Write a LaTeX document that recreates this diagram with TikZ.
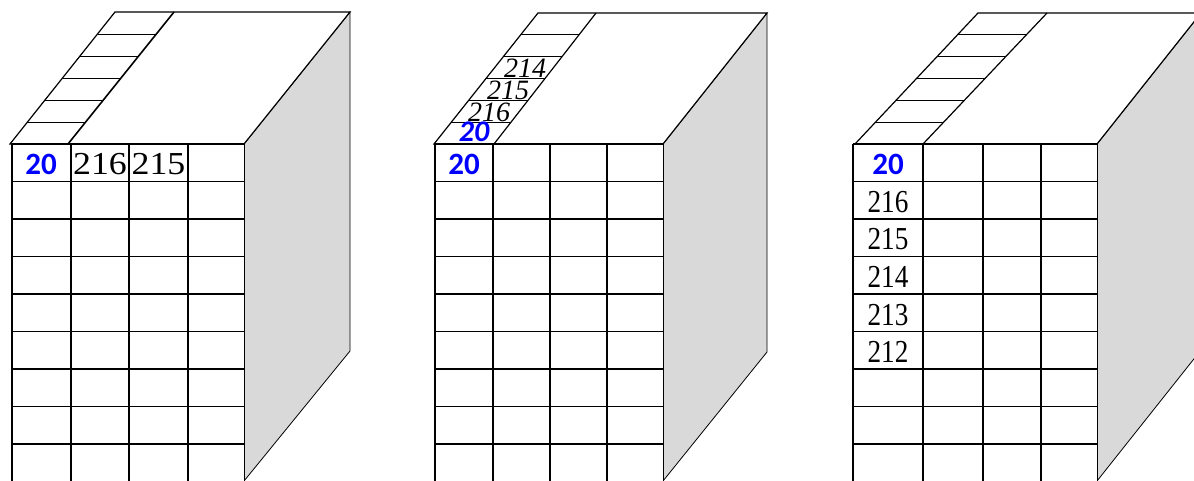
\documentclass[tikz,border=0pt]{standalone}
\usepackage{graphicx}
\usepackage{fontspec}
\setmainfont{Liberation Serif}
\newfontfamily\keyfont{Carlito}
\usetikzlibrary{calc}
\usepackage{xcolor}
\definecolor{sidegray}{HTML}{D9D9D9}
\definecolor{keyblue}{RGB}{0,0,255}

\begin{document}
\begin{tikzpicture}[x=1pt, y=-1pt,
    grid/.style={line width=1.6pt, draw=black},
    thin/.style={line width=0.8pt, draw=black},
    side/.style={line width=0.8pt, draw=black, fill=sidegray},
    face/.style={line width=1.2pt, draw=black, fill=white},
    key/.style={font=\keyfont\bfseries\fontsize{31}{31}\selectfont, text=keyblue,
                anchor=base, inner sep=0pt, text height=0.64em, text depth=0pt},
    num/.style={font=\fontsize{32}{32}\selectfont, anchor=base, inner sep=0pt,
                text height=0.68em, text depth=0pt},
    slnum/.style={font=\itshape\fontsize{28}{28}\selectfont, anchor=base, inner sep=0pt,
                  text height=0.66em, text depth=0pt}
]

\useasboundingbox (0,0) rectangle (1194,481);
\clip (0,0) rectangle (1194,481);

% Box 1: key in the first cell, entries along the first row
\draw[side] (244,144) -- (350,12) -- (350,351) -- (244,481) -- cycle;
\draw[face] (10,144) -- (244,144) -- (350,12) -- (115,12) -- cycle;
\coordinate (s1fl) at (10,144);
\coordinate (s1bl) at (115,12);
\coordinate (s1fr) at (68,144);
\coordinate (s1br) at (174,12);
\draw[grid] (s1fr) -- (s1br);
\foreach \k in {1,...,5}
  \draw[thin] ($(s1fl)!\k/6!(s1bl)$) -- ($(s1fr)!\k/6!(s1br)$);
\fill[white] (12,144) rectangle (244,482);
\foreach \x in {12,71,129,188}
  \draw[grid] (\x,144) -- (\x,482);
\foreach \y in {144,181.5,219,256.5,294,331.5,369,406.5,444}
  \draw[grid] (12,\y) -- (244,\y);
\draw[thin] (244,144) -- (244,482);

\node[key] (k1) at (41,175) {20};
\node[num] (a216) at (100,175) {\scalebox{1.12}[1]{216}};
\node[num] (a215) at (158.5,175) {\scalebox{1.12}[1]{215}};

% Box 2: entries stacked on the top strip
\draw[side] (663,144) -- (767,13) -- (767,352) -- (663,481) -- cycle;
\draw[face] (434,144) -- (663,144) -- (767,13) -- (538,13) -- cycle;
\coordinate (s2fl) at (434,144);
\coordinate (s2bl) at (538,13);
\coordinate (s2fr) at (494,144);
\coordinate (s2br) at (596,13);
\draw[face] (s2fr) -- (s2br);
\foreach \k in {1,...,5}
  \draw[thin] ($(s2fl)!\k/6!(s2bl)$) -- ($(s2fr)!\k/6!(s2br)$);
\fill[white] (435,144) rectangle (663,482);
\foreach \x in {435,493,550,607}
  \draw[grid] (\x,144) -- (\x,482);
\foreach \y in {144,181.5,219,256.5,294,331.5,369,406.5,444}
  \draw[grid] (435,\y) -- (663,\y);
\draw[thin] (663,144) -- (663,482);

\node[key, font=\keyfont\bfseries\itshape\fontsize{30}{30}\selectfont] (t20) at (474,142) {20};
\node[slnum] (t216) at (489,122) {216};
\node[slnum] (t215) at (508,100) {215};
\node[slnum] (t214) at (525,78) {214};
\node[key] (k2) at (464,175) {20};

% Box 3: entries down the first column
\draw[side] (1097,144) -- (1201,13) -- (1201,350) -- (1097,481) -- cycle;
\draw[face] (855,144) -- (1097,144) -- (1201,13) -- (978,13) -- cycle;
\coordinate (s3fl) at (855,144);
\coordinate (s3bl) at (978,13);
\coordinate (s3fr) at (923,144);
\coordinate (s3br) at (1047,13);
\draw[face] (s3fr) -- (s3br);
\foreach \k in {1,...,5}
  \draw[thin] ($(s3fl)!\k/6!(s3bl)$) -- ($(s3fr)!\k/6!(s3br)$);
\fill[white] (853,144) rectangle (1097,482);
\foreach \x in {853,923,983,1041}
  \draw[grid] (\x,144) -- (\x,482);
\foreach \y in {144,181.5,219,256.5,294,331.5,369,406.5,444}
  \draw[grid] (853,\y) -- (1097,\y);
\draw[thin] (1097,144) -- (1097,482);

\node[key] (k3) at (888,175) {20};
\node[num] (c216) at (888,212.5) {\scalebox{0.85}[1]{216}};
\node[num] (c215) at (888,250) {\scalebox{0.85}[1]{215}};
\node[num] (c214) at (888,287.5) {\scalebox{0.85}[1]{214}};
\node[num] (c213) at (888,325) {\scalebox{0.85}[1]{213}};
\node[num] (c212) at (888,362.5) {\scalebox{0.85}[1]{212}};

\end{tikzpicture}
\end{document}
